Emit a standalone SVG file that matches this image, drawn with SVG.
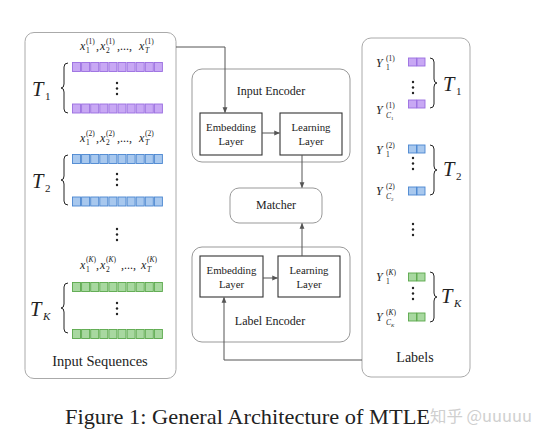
<svg xmlns="http://www.w3.org/2000/svg" xmlns:xlink="http://www.w3.org/1999/xlink" width="549" height="444" viewBox="0 0 549 444">
<style>
.panel{fill:#fff;stroke:#aaa;stroke-width:1}
.enc{fill:#fff;stroke:#999;stroke-width:1}
.box{fill:#fff;stroke:#333;stroke-width:1.1}
.t{font-family:"Liberation Serif",serif;fill:#222}
.i{font-style:italic}
.lbl{font-size:10.8px;text-anchor:middle}
.hd{font-size:12px;text-anchor:middle}
.m{font-size:12px;font-style:italic}
.s{font-size:7.5px}
.big{font-size:20.5px;font-style:italic}
.bs{font-size:11px}
.pur{fill:#c8a8f4;stroke:#9a6ee0;stroke-width:0.9}
.blu{fill:#a8c8ee;stroke:#4a86d0;stroke-width:0.9}
.grn{fill:#a8d8a0;stroke:#5aa84a;stroke-width:0.9}
.brace{fill:none;stroke:#222;stroke-width:1}
.dot{fill:#222}
.conn{fill:none;stroke:#555;stroke-width:1}
</style>
<defs>
<g id="row">
<rect x="0" y="0" width="8" height="9"/><rect x="9.1" y="0" width="8" height="9"/><rect x="18.2" y="0" width="8" height="9"/><rect x="27.3" y="0" width="8" height="9"/><rect x="36.4" y="0" width="8" height="9"/><rect x="45.5" y="0" width="8" height="9"/><rect x="54.6" y="0" width="8" height="9"/><rect x="63.7" y="0" width="8" height="9"/><rect x="72.8" y="0" width="8" height="9"/><rect x="81.9" y="0" width="8" height="9"/>
</g>
<g id="pair"><rect x="0" y="0" width="8" height="8"/><rect x="8.5" y="0" width="8" height="8"/></g>
<g id="vd"><circle cx="0" cy="0" r="1.2"/><circle cx="0" cy="5.5" r="1.2"/><circle cx="0" cy="11" r="1.2"/></g>
<path id="lb" d="M7,0 Q3,0 3,4 L3,21 Q3,25 0,25 Q3,25 3,29 L3,46 Q3,50 7,50"/>
<marker id="ah" viewBox="0 0 8 8" refX="7" refY="4" markerWidth="6" markerHeight="6" orient="auto" markerUnits="userSpaceOnUse"><path d="M0,0.8 L8,4 L0,7.2 Z" fill="#555"/></marker>
</defs>
<rect width="549" height="444" fill="#fff"/>

<g id="input-sequences">
<rect class="panel" x="25" y="32.5" width="151" height="346" rx="9"/>
<!-- T1 -->
<g class="t">
<text x="80" y="50" class="m">x</text><text x="86" y="53" class="s">1</text><text x="86" y="44" class="s">(1)</text><text x="96" y="50" font-size="12">,</text>
<text x="100" y="50" class="m">x</text><text x="106" y="53" class="s">2</text><text x="106" y="44" class="s">(1)</text><text x="117" y="50" font-size="12">,...,</text>
<text x="139" y="50" class="m">x</text><text x="145" y="53" class="s i">T</text><text x="145" y="44" class="s">(1)</text>
</g>
<use href="#row" x="72.5" y="62.5" class="pur"/>
<use href="#vd" x="117" y="83" class="dot"/>
<use href="#row" x="72.5" y="104" class="pur"/>
<use href="#lb" x="61" y="63" class="brace"/>
<text class="t big" x="32" y="96">T</text><text class="t bs" x="45" y="100">1</text>
<!-- T2 -->
<g class="t">
<text x="80" y="142" class="m">x</text><text x="86" y="145" class="s">1</text><text x="86" y="136" class="s">(2)</text><text x="96" y="142" font-size="12">,</text>
<text x="100" y="142" class="m">x</text><text x="106" y="145" class="s">2</text><text x="106" y="136" class="s">(2)</text><text x="117" y="142" font-size="12">,...,</text>
<text x="139" y="142" class="m">x</text><text x="145" y="145" class="s i">T</text><text x="145" y="136" class="s">(2)</text>
</g>
<use href="#row" x="72.5" y="154.5" class="blu"/>
<use href="#vd" x="117" y="174" class="dot"/>
<use href="#row" x="72.5" y="197" class="blu"/>
<use href="#lb" x="61" y="155" class="brace"/>
<text class="t big" x="32" y="188">T</text><text class="t bs" x="45" y="192">2</text>
<use href="#vd" x="117" y="229" class="dot"/>
<!-- TK -->
<g class="t">
<text x="80" y="269" class="m">x</text><text x="86" y="272" class="s">1</text><text x="86" y="262" class="s">(<tspan class="i">K</tspan>)</text><text x="96" y="269" font-size="12">,</text>
<text x="100" y="269" class="m">x</text><text x="106" y="272" class="s">2</text><text x="106" y="262" class="s">(<tspan class="i">K</tspan>)</text><text x="121" y="269" font-size="12">,...,</text>
<text x="141" y="269" class="m">x</text><text x="147" y="272" class="s i">T</text><text x="147" y="262" class="s">(<tspan class="i">K</tspan>)</text>
</g>
<use href="#row" x="72.5" y="282.5" class="grn"/>
<use href="#vd" x="117" y="303" class="dot"/>
<use href="#row" x="72.5" y="329.5" class="grn"/>
<use href="#lb" x="61" y="283" class="brace"/>
<text class="t big" x="30" y="316">T</text><text class="t bs i" x="43" y="320">K</text>
<text class="t" x="100" y="366" font-size="14.5" text-anchor="middle">Input Sequences</text>
</g>

<g id="input-encoder">
<rect class="enc" x="192" y="69" width="158" height="93" rx="10"/>
<text class="t hd" x="271" y="95">Input Encoder</text>
</g>
<g id="input-embedding">
<rect class="box" x="200" y="113" width="62" height="42"/>
<text class="t lbl" x="231" y="131">Embedding</text><text class="t lbl" x="231" y="145">Layer</text>
</g>
<g id="input-learning">
<rect class="box" x="280" y="113" width="62" height="42"/>
<text class="t lbl" x="311" y="131">Learning</text><text class="t lbl" x="311" y="145">Layer</text>
</g>
<g id="matcher">
<rect class="enc" x="230" y="188" width="92" height="35" rx="9"/>
<text class="t hd" x="276" y="209">Matcher</text>
</g>
<g id="label-encoder">
<rect class="enc" x="192" y="247" width="158" height="95" rx="10"/>
<text class="t hd" x="270" y="325">Label Encoder</text>
</g>
<g id="label-embedding">
<rect class="box" x="200" y="256" width="63" height="41"/>
<text class="t lbl" x="231.5" y="274">Embedding</text><text class="t lbl" x="231.5" y="288">Layer</text>
</g>
<g id="label-learning">
<rect class="box" x="278" y="256" width="62" height="41"/>
<text class="t lbl" x="309" y="274">Learning</text><text class="t lbl" x="309" y="288">Layer</text>
</g>

<g id="labels">
<rect class="panel" x="362" y="38" width="108" height="339" rx="9"/>
<g class="t">
<text x="376" y="67" class="m">Y</text><text x="386" y="70" class="s">1</text><text x="386" y="61" class="s">(1)</text>
<text x="376" y="114" class="m">Y</text><text x="386" y="118" class="s i">C<tspan font-size="5" dy="1.5" font-style="normal">1</tspan></text><text x="386" y="108" class="s">(1)</text>
<text x="376" y="154" class="m">Y</text><text x="386" y="157" class="s">1</text><text x="386" y="148" class="s">(2)</text>
<text x="376" y="195" class="m">Y</text><text x="386" y="199" class="s i">C<tspan font-size="5" dy="1.5" font-style="normal">2</tspan></text><text x="386" y="189" class="s">(2)</text>
<text x="376" y="281" class="m">Y</text><text x="386" y="284" class="s">1</text><text x="386" y="275" class="s">(<tspan class="i">K</tspan>)</text>
<text x="376" y="321" class="m">Y</text><text x="386" y="325" class="s i">C<tspan font-size="5" dy="1.5">K</tspan></text><text x="386" y="315" class="s">(<tspan class="i">K</tspan>)</text>
</g>
<use href="#pair" x="408.5" y="58" class="pur"/>
<use href="#vd" x="413" y="82" class="dot"/>
<use href="#pair" x="408.5" y="100" class="pur"/>
<use href="#lb" transform="translate(437,58) scale(-1,1)" class="brace"/>
<text class="t big" x="443" y="91">T</text><text class="t bs" x="456" y="95">1</text>
<use href="#pair" x="408.5" y="145" class="blu"/>
<use href="#vd" x="413" y="158" class="dot"/>
<use href="#pair" x="408.5" y="187" class="blu"/>
<use href="#lb" transform="translate(437,145) scale(-1,1)" class="brace"/>
<text class="t big" x="443" y="176">T</text><text class="t bs" x="456" y="180">2</text>
<use href="#vd" x="413" y="224" class="dot"/>
<use href="#pair" x="408.5" y="273" class="grn"/>
<use href="#vd" x="413" y="288" class="dot"/>
<use href="#pair" x="408.5" y="313" class="grn"/>
<use href="#lb" transform="translate(437,272) scale(-1,1)" class="brace"/>
<text class="t big" x="441" y="303">T</text><text class="t bs i" x="454" y="307">K</text>
<text class="t" x="415" y="362" font-size="14" text-anchor="middle">Labels</text>
</g>

<g id="connectors">
<path class="conn" d="M176,47 H225 V112.5" marker-end="url(#ah)"/>
<path class="conn" d="M262,133 H279.5" marker-end="url(#ah)"/>
<path class="conn" d="M302,155 V187.5" marker-end="url(#ah)"/>
<path class="conn" d="M302,256 V223.5" marker-end="url(#ah)" stroke-width="1.4" stroke="#777"/>
<path class="conn" d="M263,278 H277.5" marker-end="url(#ah)"/>
<path class="conn" d="M362,360 H224 V297.5" marker-end="url(#ah)"/>
</g>

<text class="t" x="65" y="424" font-size="22" fill="#111" textLength="365" lengthAdjust="spacingAndGlyphs">Figure 1: General Architecture of MTLE</text>
<text x="430" y="422" font-family="'Noto Sans CJK SC','Noto Sans',sans-serif" font-size="16" fill="#cfcfcf" textLength="102" lengthAdjust="spacingAndGlyphs">知乎 @uuuuu</text>
</svg>
